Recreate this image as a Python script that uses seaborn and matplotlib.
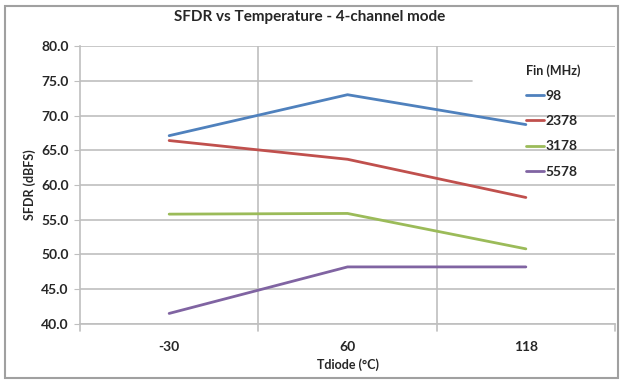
import seaborn as sns
import matplotlib.pyplot as plt
import pandas as pd
from matplotlib.patches import Rectangle

# data
temps = ['-30', '60', '118']
fin_labels = ['98', '2378', '3178', '5578']
sfdr_98 = [67.1, 73.0, 68.7]
sfdr_2378 = [66.4, 63.7, 58.2]
sfdr_3178 = [55.8, 55.9, 50.8]
sfdr_5578 = [41.5, 48.2, 48.2]
colors = ['#4F81BD', '#C0504D', '#9BBB59', '#8064A2']

rows = []
for fin, vals in zip(fin_labels, [sfdr_98, sfdr_2378, sfdr_3178, sfdr_5578]):
    for t, v in zip(temps, vals):
        rows.append({'Tdiode': t, 'SFDR': v, 'Fin': fin})
df = pd.DataFrame(rows)

sns.set_style('white')
plt.rcParams['font.family'] = ['Lato', 'DejaVu Sans']

fig = plt.figure(figsize=(6.2, 3.81), dpi=100)
ax = fig.add_axes([0.129, 0.150, 0.863, 0.729])

sns.lineplot(data=df, x='Tdiode', y='SFDR', hue='Fin', hue_order=fin_labels,
             palette=colors, linewidth=2, sort=False, ax=ax)

ax.set_xlim(-0.5, 2.5)
ax.set_ylim(40, 80)
ax.set_yticks([40, 45, 50, 55, 60, 65, 70, 75, 80])
ax.set_yticklabels(['%.1f' % v for v in ax.get_yticks()], fontweight='bold', fontsize=10)
ax.set_xticks([0, 1, 2])
ax.set_xticklabels(temps, fontweight='bold', fontsize=10)
ax.tick_params(axis='x', length=0, pad=12)
ax.tick_params(axis='y', length=4, color='#BFBFBF', direction='out', pad=4, left=True)

# grid: horizontal at ticks, vertical between categories
for y in ax.get_yticks():
    # the legend box hides the right end of the 75 line in the original
    ax.axhline(y, xmax=0.733 if y == 75 else 1, color='#BFBFBF', lw=1.2, zorder=0)
for x in [0.5, 1.5]:
    ax.axvline(x, color='#BFBFBF', lw=1.2, zorder=0)
for x in [-0.5, 0.5, 1.5, 2.5]:
    ax.plot([x, x], [40, 39.0], color='#BFBFBF', lw=1.2, clip_on=False)

for s in ['top', 'right']:
    ax.spines[s].set_visible(False)
for s in ['left', 'bottom']:
    ax.spines[s].set_color('#BFBFBF')
    ax.spines[s].set_linewidth(1.2)

ax.set_xlabel('Tdiode (°C)', fontweight='bold', fontsize=9, labelpad=4)
ax.set_ylabel('SFDR (dBFS)', fontweight='bold', fontsize=9, labelpad=4)
fig.text(0.5, 0.955, 'SFDR vs Temperature - 4-channel mode', ha='center', va='center',
         fontweight='bold', fontsize=11)

leg = ax.legend(title='Fin (MHz)', loc='upper left', bbox_to_anchor=(0.81, 0.98),
                frameon=False, handlelength=1.3, handletextpad=0.1,
                labelspacing=0.95, fontsize=10, title_fontsize=9)
leg.get_title().set_fontweight('bold')
leg._legend_box.align = 'left'
for t in leg.get_texts():
    t.set_fontweight('bold')

fig.add_artist(Rectangle((0.008, 0.008), 0.988, 0.975, transform=fig.transFigure,
                         fill=False, edgecolor='#A0A0A0', lw=1.5))

plt.savefig('out.png', dpi=100)
